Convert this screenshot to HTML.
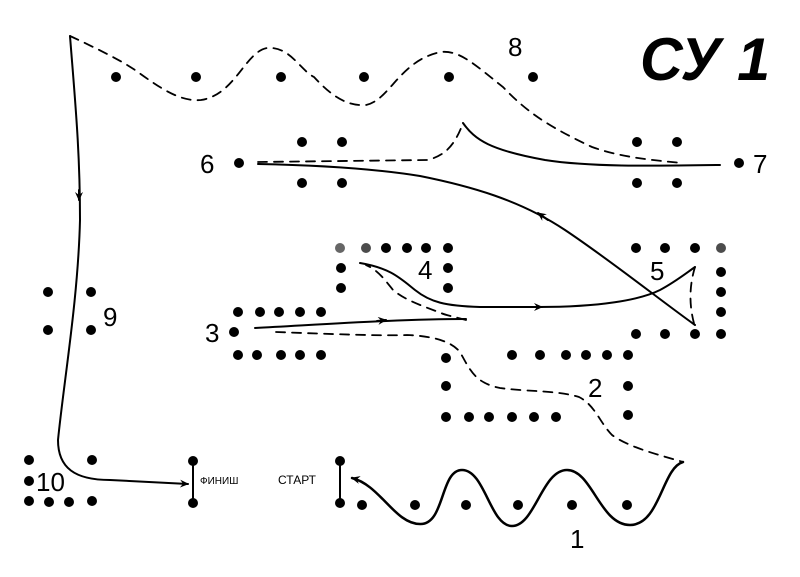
<!DOCTYPE html>
<html><head><meta charset="utf-8"><style>
html,body{margin:0;padding:0;background:#fff}
svg{display:block}
text{font-family:"Liberation Sans","DejaVu Sans",sans-serif;fill:#000}
</style></head><body>
<svg width="800" height="577" viewBox="0 0 800 577" xmlns="http://www.w3.org/2000/svg">
<defs>
<marker id="a" markerWidth="10" markerHeight="8" refX="8" refY="4" orient="auto" markerUnits="userSpaceOnUse"><path d="M0,0 L9,4 L0,8 L3,4 Z" fill="#000"/></marker>
</defs>
<g fill="#000">
<circle cx="116" cy="77" r="5"/><circle cx="196" cy="77" r="5"/><circle cx="281" cy="77" r="5"/><circle cx="364" cy="77" r="5"/><circle cx="449" cy="77" r="5"/><circle cx="533" cy="77" r="5"/>
<circle cx="302" cy="142" r="5"/><circle cx="342" cy="142" r="5"/><circle cx="637" cy="142" r="5"/><circle cx="677" cy="142" r="5"/>
<circle cx="302" cy="183" r="5"/><circle cx="342" cy="183" r="5"/><circle cx="637" cy="183" r="5"/><circle cx="677" cy="183" r="5"/>
<circle cx="239" cy="163" r="5"/><circle cx="739" cy="163" r="5"/>
<circle cx="340" cy="248" r="5" opacity=".6"/><circle cx="366" cy="248" r="5" opacity=".7"/><circle cx="386" cy="248" r="5"/><circle cx="407" cy="248" r="5"/><circle cx="426" cy="248" r="5"/><circle cx="448" cy="248" r="5"/>
<circle cx="341" cy="268" r="5"/><circle cx="341" cy="288" r="5"/><circle cx="448" cy="268" r="5"/><circle cx="448" cy="288" r="5"/>
<circle cx="636" cy="248" r="5"/><circle cx="665" cy="248" r="5"/><circle cx="695" cy="248" r="5"/><circle cx="721" cy="248" r="5" opacity=".7"/>
<circle cx="721" cy="272" r="5"/><circle cx="721" cy="292" r="5"/><circle cx="721" cy="312" r="5"/>
<circle cx="636" cy="334" r="5"/><circle cx="665" cy="334" r="5"/><circle cx="695" cy="334" r="5"/><circle cx="721" cy="334" r="5"/>
<circle cx="238" cy="312" r="5"/><circle cx="260" cy="312" r="5"/><circle cx="279" cy="312" r="5"/><circle cx="300" cy="312" r="5"/><circle cx="321" cy="312" r="5"/>
<circle cx="234" cy="332" r="5"/>
<circle cx="238" cy="355" r="5"/><circle cx="257" cy="355" r="5"/><circle cx="281" cy="355" r="5"/><circle cx="300" cy="355" r="5"/><circle cx="321" cy="355" r="5"/>
<circle cx="512" cy="355" r="5"/><circle cx="540" cy="355" r="5"/><circle cx="566" cy="355" r="5"/><circle cx="586" cy="355" r="5"/><circle cx="607" cy="355" r="5"/><circle cx="628" cy="355" r="5"/>
<circle cx="446" cy="358" r="5"/><circle cx="446" cy="386" r="5"/><circle cx="628" cy="386" r="5"/>
<circle cx="446" cy="417" r="5"/><circle cx="469" cy="417" r="5"/><circle cx="489" cy="417" r="5"/><circle cx="512" cy="417" r="5"/><circle cx="534" cy="417" r="5"/><circle cx="556" cy="417" r="5"/><circle cx="628" cy="415" r="5"/>
<circle cx="48" cy="292" r="5"/><circle cx="91" cy="292" r="5"/><circle cx="48" cy="330" r="5"/><circle cx="91" cy="330" r="5"/>
<circle cx="29" cy="460" r="5"/><circle cx="92" cy="460" r="5"/><circle cx="29" cy="481" r="5"/>
<circle cx="29" cy="501" r="5"/><circle cx="49" cy="502" r="5"/><circle cx="69" cy="502" r="5"/><circle cx="92" cy="501" r="5"/>
<circle cx="193" cy="461" r="5"/><circle cx="193" cy="503" r="5"/>
<circle cx="340" cy="461" r="5"/><circle cx="340" cy="503" r="5"/>
<circle cx="362" cy="505" r="5"/><circle cx="415" cy="505" r="5"/><circle cx="466" cy="505" r="5"/><circle cx="518" cy="505" r="5"/><circle cx="572" cy="505" r="5"/><circle cx="627" cy="505" r="5"/>
</g>
<g fill="none" stroke="#000" stroke-width="2" stroke-linecap="round">
<line x1="193" y1="461" x2="193" y2="503"/>
<line x1="340" y1="461" x2="340" y2="503"/>
<path d="M683,462 C662,468 660,525 630,525 C600,525 592,470 567,470 C542,470 535,526 512,526 C490,526 485,470 462,470 C440,470 445,525 420,524 C395,524 380,485 352,478" stroke-width="2.5" marker-end="url(#a)"/>
<path d="M255,328 C330,324 400,319 466,319"/>
<path d="M377,321 L386,320" marker-end="url(#a)"/>
<path d="M360,263 C390,268 400,278 415,290 C430,302 445,306 480,307 L538,307 C600,307 640,300 660,290 C675,282 685,274 695,267"/>
<path d="M530,307 L542,307" marker-end="url(#a)"/>
<path d="M695,325 C660,300 610,260 565,230 C520,200 470,186 420,176 C370,168 310,165 258,164"/>
<path d="M548,220 L538,213" marker-end="url(#a)"/>
<path d="M463,123 C475,140 490,150 545,160 C590,167 650,166 720,165"/>
<path d="M70,36 C75,100 80,150 80,220 C78,300 64,380 58,440 C58,468 75,480 110,480 L188,484" marker-end="url(#a)"/>
<path d="M79,190 L79,200" marker-end="url(#a)"/>
</g>
<g fill="none" stroke="#000" stroke-width="1.8" stroke-dasharray="9,7" stroke-linecap="round">
<path d="M70,36 C100,50 120,60 135,70 C160,88 180,102 201,100 C235,95 245,52 267,48 C290,46 300,70 314,77 C335,100 350,106 366,105 C390,100 400,60 441,52 C460,50 475,65 503,87 C525,110 545,125 592,147 C620,157 650,160 682,163"/>
<path d="M258,162 L427,160 C445,156 455,145 463,123"/>
<path d="M276,332 C330,334 380,336 407,335 C430,336 450,340 460,352 C470,370 475,383 500,388 C530,392 555,390 579,397 C595,405 600,423 612,435 C630,448 660,455 683,462"/>
<path d="M466,320 C455,317 445,315 441,313 C420,305 405,300 393,290 C385,280 378,270 366,265"/>
<path d="M695,267 C688,290 690,310 695,327"/>
</g>
<g font-size="26">
<text x="508" y="56">8</text>
<text x="200" y="173">6</text>
<text x="753" y="173">7</text>
<text x="418" y="279">4</text>
<text x="650" y="280">5</text>
<text x="205" y="342">3</text>
<text x="588" y="397">2</text>
<text x="103" y="326">9</text>
<text x="36" y="491">10</text>
<text x="570" y="548">1</text>
</g>
<text x="200" y="484" font-size="10">ФИНИШ</text>
<text x="278" y="484" font-size="12">СТАРТ</text>
<text x="640" y="80" font-size="60" font-weight="bold" font-style="italic" textLength="130" lengthAdjust="spacingAndGlyphs">СУ 1</text>
</svg>
</body></html>
